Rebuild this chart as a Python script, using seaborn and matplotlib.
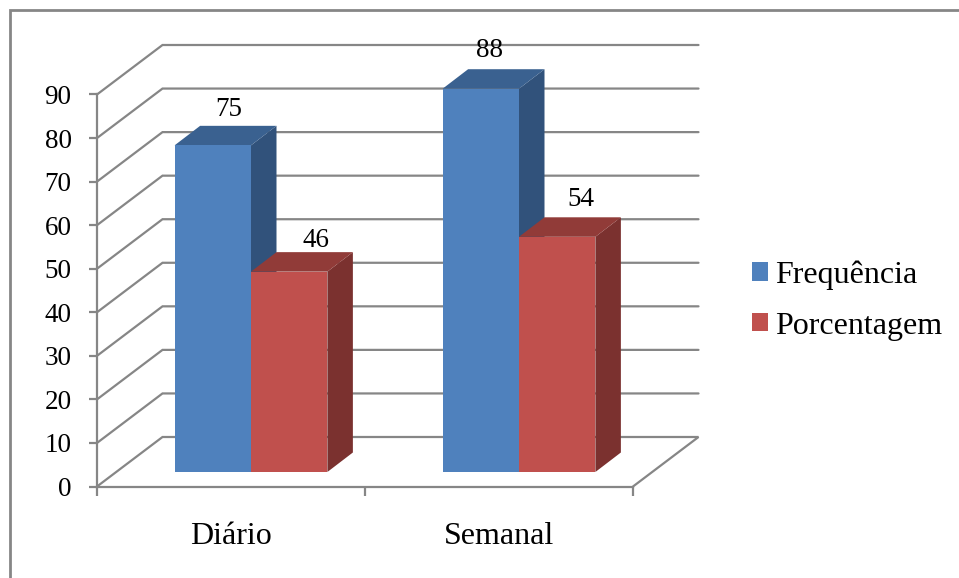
import matplotlib
matplotlib.use("Agg")
import matplotlib.pyplot as plt
import pandas as pd
import seaborn as sns
from matplotlib.lines import Line2D
from matplotlib.patches import Patch, Polygon
from matplotlib.transforms import IdentityTransform

# Chart data
periods = ["Diário", "Semanal"]
series_names = ["Frequência", "Porcentagem"]
frequencia = [75, 88]
porcentagem = [46, 54]
y_ticks = [0, 10, 20, 30, 40, 50, 60, 70, 80, 90]

# Face colours of the extruded columns: front, side, top
FACES = {
    "Frequência": ("#4F81BD", "#31527B", "#3A6190"),
    "Porcentagem": ("#C0504D", "#7B312F", "#913B38"),
}
GRID = "#868686"
W, H = 959, 578
SERIF = "Liberation Serif"

sns.set_theme(style="white")
plt.rcParams["font.family"] = [SERIF, "DejaVu Sans"]

fig = plt.figure(figsize=(W / 100, H / 100), dpi=100, facecolor="white")


def axes_from_pixels(left, right, top, bottom):
    return fig.add_axes([left / W, 1 - bottom / H, (right - left) / W, (bottom - top) / H])


# Outer chart frame: only the left and top edges show
fig.add_artist(Line2D([10 / W, 10 / W, 1], [0, 1 - 9.5 / H, 1 - 9.5 / H],
                      color=GRID, lw=2.0, solid_joinstyle="miter"))

# Front plane carries the value axis and the category axis
front = axes_from_pixels(97, 633, 94.5, 486.5)
front.set_xlim(-0.5, 1.5)
front.set_ylim(0, 90)
front.patch.set_visible(False)
for side in ("top", "right"):
    front.spines[side].set_visible(False)
for side in ("left", "bottom"):
    front.spines[side].set_color(GRID)
    front.spines[side].set_linewidth(1.6)
front.set_yticks(y_ticks)
front.set_yticklabels([str(v) for v in y_ticks], fontsize=19.5, color="black")
front.set_xticks([-0.5, 0.5, 1.5])
front.set_xticklabels([])
front.set_xticks([0, 1], minor=True)
front.set_xticklabels(periods, minor=True, fontsize=23, color="black")
front.tick_params(axis="y", which="major", length=5.8, width=1.6, color=GRID, pad=12.5, left=True)
front.tick_params(axis="x", which="major", length=6.5, width=1.6, color=GRID, bottom=True)
front.tick_params(axis="x", which="minor", length=0, pad=25.5)

# Receding floor and back wall: each gridline runs back from the value axis
WALL_DX, WALL_DY = 65.5, 49.5
for v in y_ticks:
    x0, y0 = front.transData.transform((-0.5, v))
    x1, _ = front.transData.transform((1.5, v))
    xs = [x0, x0 + WALL_DX, x1 + WALL_DX]
    ys = [y0, y0 + WALL_DY, y0 + WALL_DY]
    if v == 0:
        xs.append(x1)
        ys.append(y0)
    front.add_line(Line2D(xs, ys, transform=IdentityTransform(), color=GRID, lw=1.6,
                          clip_on=False, zorder=0.5, solid_joinstyle="miter"))

# Columns stand part-way back on the floor
bars = axes_from_pixels(117, 653, 80, 472)
bars.patch.set_visible(False)
table = pd.DataFrame({
    "periodo": periods * 2,
    "serie": [series_names[0]] * 2 + [series_names[1]] * 2,
    "valor": frequencia + porcentagem,
})
sns.barplot(data=table, x="periodo", y="valor", hue="serie", order=periods,
            hue_order=series_names, palette={k: v[0] for k, v in FACES.items()},
            width=0.57, gap=0, dodge=True, saturation=1, legend=False, ax=bars,
            linewidth=0)
bars.set_xlim(-0.5, 1.5)
bars.set_ylim(0, 90)
bars.axis("off")

# Extrude every column with a side and a top face
DEPTH_DX, DEPTH_DY = 25.5, 19.5
rects = [p for p in bars.patches]
names = [series_names[0]] * 2 + [series_names[1]] * 2
for order, (rect, name) in enumerate(zip(rects, names)):
    _, side_colour, top_colour = FACES[name]
    left = rect.get_x()
    right = left + rect.get_width()
    height = rect.get_height()
    (xl, yb) = bars.transData.transform((left, 0))
    (xr, yt) = bars.transData.transform((right, height))
    side = [(xr, yb), (xr + DEPTH_DX, yb + DEPTH_DY), (xr + DEPTH_DX, yt + DEPTH_DY), (xr, yt)]
    top = [(xl, yt), (xl + DEPTH_DX, yt + DEPTH_DY), (xr + DEPTH_DX, yt + DEPTH_DY), (xr, yt)]
    for pts, colour in ((side, side_colour), (top, top_colour)):
        bars.add_patch(Polygon(pts, closed=True, transform=IdentityTransform(), facecolor=colour,
                               edgecolor="none", clip_on=False, zorder=0.5 + order * 0.01))
    rect.set_zorder(1)

# Value labels sit above the top faces, nudged clear of neighbouring columns
label_offsets = [(15.5, 36), (8.5, 38.7), (26.5, 31.6), (23.5, 37.7)]
for rect, offset in zip(rects, label_offsets):
    bars.annotate(f"{rect.get_height():.0f}",
                  xy=(rect.get_x() + rect.get_width() / 2, rect.get_height()),
                  xytext=offset, textcoords="offset pixels", ha="center", va="center",
                  fontsize=19.5, color="black", annotation_clip=False, zorder=5)

# Legend to the right of the plot
handles = [Patch(facecolor=FACES[n][0], edgecolor="none") for n in series_names]
fig.legend(handles, series_names, loc="center left",
           bbox_to_anchor=(742.5 / W, 1 - 300.5 / H), frameon=False, fontsize=23,
           handlelength=0.5, handleheight=0.5, handletextpad=0.22, labelspacing=0.68,
           borderpad=0, borderaxespad=0.3, labelcolor="black")

fig.savefig("out.png", dpi=100, facecolor="white")
